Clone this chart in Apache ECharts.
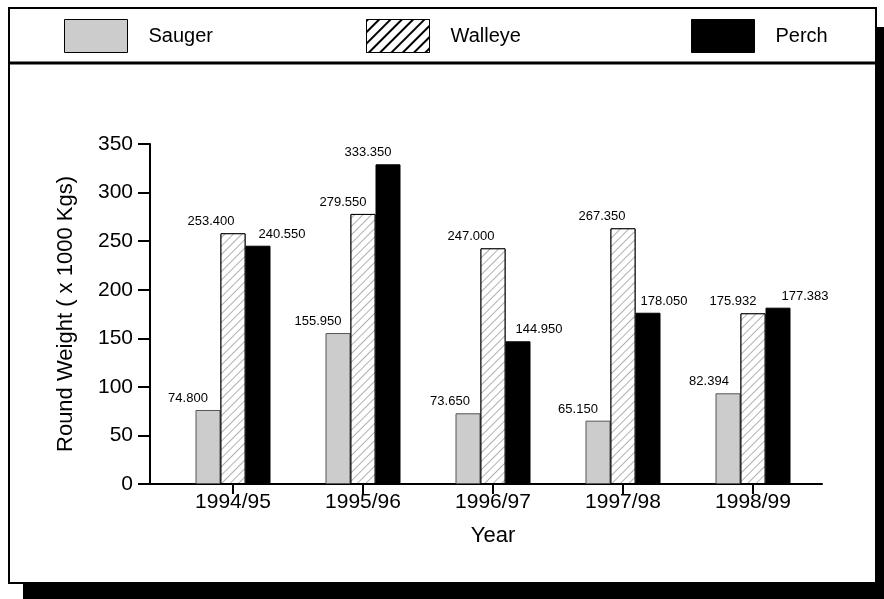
<!DOCTYPE html>
<html><head><meta charset="utf-8">
<script src="https://cdn.jsdelivr.net/npm/echarts@6/dist/echarts.min.js"></script>
<style>html,body{margin:0;padding:0;background:#fff}#c{width:884px;height:599px}</style>
</head><body><div id="c"></div>
<script>
// ---- data ----
const categories = ['1994/95', '1995/96', '1996/97', '1997/98', '1998/99'];
const seriesNames = ['Sauger', 'Walleye', 'Perch'];
// bar heights as drawn in the picture (x 1000 Kgs)
const saugerBars = [76.2, 155.4, 72.8, 65.2, 93.4];
const walleyeBars = [258.1, 278.0, 242.6, 263.2, 175.7];
const perchBars = [245.3, 329.1, 146.9, 176.3, 181.5];
// values printed on the labels
const saugerLabels = [74.800, 155.950, 73.650, 65.150, 82.394];
const walleyeLabels = [253.400, 279.550, 247.000, 267.350, 175.932];
const perchLabels = [240.550, 333.350, 144.950, 178.050, 177.383];
const yMin = 0, yMax = 350, yStep = 50;

// ---- styling ----
const FONT = 'Liberation Sans';
const labelShift = {
  Sauger: [-20, -20, -18, -20, -19],
  Walleye: [-22, -20, -22, -21, -20],
  Perch: [24, -20, 21, 16, 27]
};

function buildData(bars, name) {
  return bars.map((v, i) => ({ value: v, label: { offset: [labelShift[name][i], 0] } }));
}
function lbl(labels) {
  return {
    show: true, position: 'top', distance: 5,
    fontFamily: FONT, fontSize: 13, color: '#000',
    formatter: p => labels[p.dataIndex].toFixed(3)
  };
}

const barHatch = {
  symbol: 'rect', symbolSize: 1, dashArrayX: [1, 0], dashArrayY: [1, 5],
  rotation: -Math.PI / 4, color: '#b0b0b0', backgroundColor: '#fff'
};
const legendHatch = {
  symbol: 'rect', symbolSize: 1, dashArrayX: [1, 0], dashArrayY: [1.6, 6],
  rotation: -Math.PI / 4, color: '#000', backgroundColor: '#fff'
};

const legendBase = {
  top: 19, padding: 0, itemWidth: 63, itemHeight: 33, icon: 'rect', selectedMode: false,
  textStyle: { fontFamily: FONT, fontSize: 20, color: '#000', padding: [0, 0, 0, 16] }
};

const chart = echarts.init(document.getElementById('c'), null, { renderer: 'canvas' });
chart.setOption({
  animation: false,
  backgroundColor: '#fff',
  graphic: {
    elements: [
      { type: 'rect', z: -30, shape: { x: 23, y: 27, width: 861, height: 572 }, style: { fill: '#000' } },
      { type: 'rect', z: -20, shape: { x: 9, y: 8, width: 867, height: 575 }, style: { fill: '#fff', stroke: '#000', lineWidth: 2 } },
      { type: 'line', z: -10, shape: { x1: 9, y1: 63, x2: 876, y2: 63 }, style: { stroke: '#000', lineWidth: 3 } }
    ]
  },
  legend: [
    Object.assign({}, legendBase, { left: 64, data: [{ name: 'Sauger', itemStyle: { color: '#cccccc', borderColor: '#000', borderWidth: 1 } }] }),
    Object.assign({}, legendBase, { left: 366, data: [{ name: 'Walleye', itemStyle: { color: '#fff', borderColor: '#000', borderWidth: 1, decal: legendHatch } }] }),
    Object.assign({}, legendBase, { left: 691, data: [{ name: 'Perch', itemStyle: { color: '#000', borderColor: '#000', borderWidth: 1 } }] })
  ],
  grid: [
    { left: 150, right: 62, top: 144, bottom: 115 },
    { left: 168, right: 66, top: 144, bottom: 115 }
  ],
  xAxis: [
    { gridIndex: 0, type: 'value', min: 0, max: 1,
      axisLine: { show: true, lineStyle: { color: '#000', width: 2 } },
      axisTick: { show: false }, axisLabel: { show: false }, splitLine: { show: false } },
    { gridIndex: 1, type: 'category', data: categories,
      axisLine: { show: false },
      axisTick: { show: true, alignWithLabel: true, length: 10, lineStyle: { color: '#000', width: 2 } },
      axisLabel: { fontFamily: FONT, fontSize: 21, color: '#000', margin: 8 },
      name: 'Year', nameLocation: 'middle', nameGap: 41,
      nameTextStyle: { fontFamily: FONT, fontSize: 22, color: '#000' } }
  ],
  yAxis: [
    { gridIndex: 0, type: 'value', min: yMin, max: yMax, interval: yStep,
      axisLine: { show: true, lineStyle: { color: '#000', width: 2 } },
      axisTick: { show: true, length: 12, lineStyle: { color: '#000', width: 2 } },
      axisLabel: { fontFamily: FONT, fontSize: 21, color: '#000', margin: 17 },
      splitLine: { show: false },
      name: 'Round Weight ( x 1000 Kgs)', nameLocation: 'middle', nameGap: 73,
      nameTextStyle: { fontFamily: FONT, fontSize: 22, color: '#000' } },
    { gridIndex: 1, type: 'value', min: yMin, max: yMax, interval: yStep, show: false }
  ],
  series: [
    { name: 'Sauger', type: 'bar', xAxisIndex: 1, yAxisIndex: 1, barWidth: 25, barGap: '0%',
      itemStyle: { color: '#cccccc', borderColor: '#555', borderWidth: 1 },
      label: lbl(saugerLabels), data: buildData(saugerBars, 'Sauger') },
    { name: 'Walleye', type: 'bar', xAxisIndex: 1, yAxisIndex: 1, barWidth: 25, barGap: '0%',
      itemStyle: { color: '#fff', borderColor: '#000', borderWidth: 1, decal: barHatch },
      label: lbl(walleyeLabels), data: buildData(walleyeBars, 'Walleye') },
    { name: 'Perch', type: 'bar', xAxisIndex: 1, yAxisIndex: 1, barWidth: 25, barGap: '0%',
      itemStyle: { color: '#000', borderColor: '#000', borderWidth: 1 },
      label: lbl(perchLabels), data: buildData(perchBars, 'Perch') }
  ]
});
</script>
</body></html>
